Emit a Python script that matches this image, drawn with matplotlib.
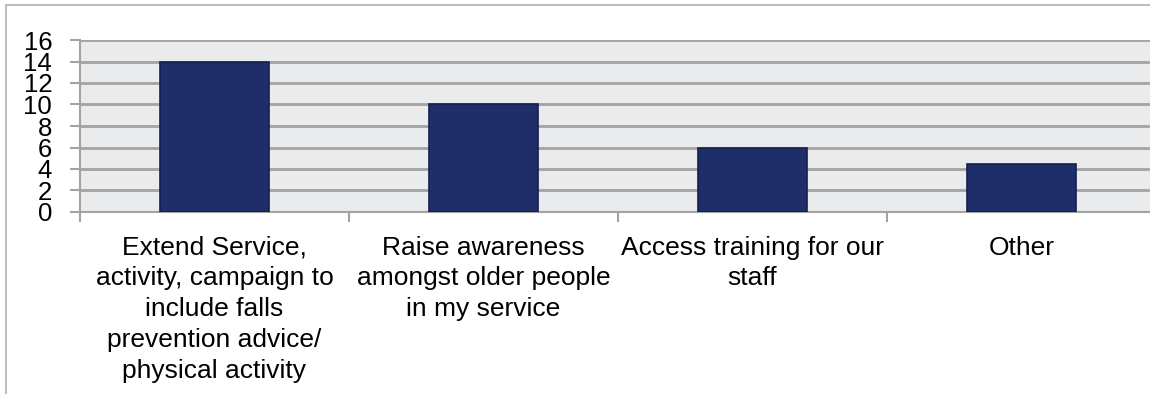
import numpy as np
import matplotlib.pyplot as plt
from matplotlib.lines import Line2D

plt.rcParams['font.family'] = ['Liberation Sans', 'DejaVu Sans']

# --- Data ---
categories = [
    "Extend Service,\nactivity, campaign to\ninclude falls\nprevention advice/\nphysical activity",
    "Raise awareness\namongst older people\nin my service",
    "Access training for our\nstaff",
    "Other",
]
responses = [14, 10, 6, 4.5]
y_ticks = [0, 2, 4, 6, 8, 10, 12, 14, 16]

W, H = 1150, 394
fig = plt.figure(figsize=(W / 100, H / 100), dpi=100)

# Plot area in pixel terms: left 80, top 40, bottom 212, category width ~269
left, top, bottom = 80, 40, 212
cat_w = 269
ax = fig.add_axes([left / W, 1 - bottom / H, 4 * cat_w / W, (bottom - top) / H])

x = np.arange(len(categories))
ax.set_facecolor('#EAEBEC')
ax.bar(x, responses, width=0.405, color='#1F2D68', edgecolor='#15204F',
       linewidth=1.2, zorder=3)

ax.set_xlim(-0.5, len(categories) - 0.5)
ax.set_ylim(0, 16)
ax.set_yticks(y_ticks)
ax.set_yticklabels([str(v) for v in y_ticks])
ax.yaxis.grid(True, color='#A3A3A3', linewidth=2, zorder=1)
ax.set_axisbelow(True)

# Category labels centred under the bars, tick marks on the boundaries
ax.set_xticks(x)
ax.set_xticklabels(categories, fontsize=19, linespacing=1.36, ha='center', va='top')
ax.set_xticks(np.arange(-0.5, len(categories)), minor=True)
ax.tick_params(axis='x', which='major', length=0, pad=17)
ax.tick_params(axis='x', which='minor', length=7, width=1.5, color='#A3A3A3', direction='out')
ax.tick_params(axis='y', length=7, width=1.5, color='#A3A3A3', labelsize=18.5, pad=13)

for side in ['top', 'right']:
    ax.spines[side].set_visible(False)
ax.spines['left'].set_color('#A3A3A3')
ax.spines['left'].set_linewidth(1.5)
ax.spines['bottom'].set_color('#A3A3A3')
ax.spines['bottom'].set_linewidth(1.5)

# Outer chart frame (top and left edges)
fx = 6 / W
fy = 1 - 5 / H
fig.add_artist(Line2D([fx, 1], [fy, fy], color='#BDBDBD', linewidth=1.5,
                      transform=fig.transFigure))
fig.add_artist(Line2D([fx, fx], [0, fy], color='#BDBDBD', linewidth=1.5,
                      transform=fig.transFigure))

fig.savefig('out.png', dpi=100)
